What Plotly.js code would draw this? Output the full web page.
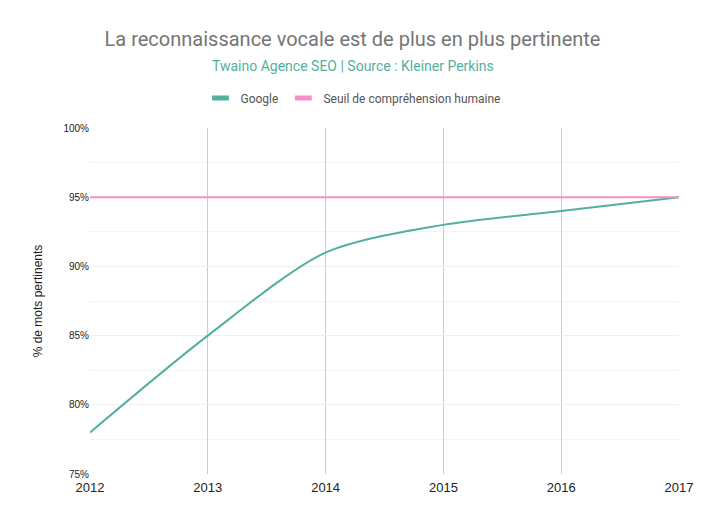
<!DOCTYPE html>
<html>
<head>
<meta charset="utf-8">
<script src="https://cdn.plot.ly/plotly-3.0.1.min.js"></script>
<style>
  html, body { margin: 0; padding: 0; background: #fff; }
  #chart { width: 705px; height: 520px; }
</style>
</head>
<body>
<div id="chart"></div>
<script>
// Données
const annees = [2012, 2013, 2014, 2015, 2016, 2017]
const google = [78, 85, 91, 93, 94, 95]
const seuilHumain = [95, 95, 95, 95, 95, 95]

const couleurs = { google: "#52b0a0", seuil: "#f78fc6" }
const noms = { google: "Google", seuil: "Seuil de compréhension humaine" }

const traces = [
  {
    x: annees,
    y: google,
    type: "scatter",
    mode: "lines",
    name: noms.google,
    showlegend: false,
    line: { color: couleurs.google, width: 2, shape: "spline", smoothing: 0.8 },
  },
  {
    x: annees,
    y: seuilHumain,
    type: "scatter",
    mode: "lines",
    name: noms.seuil,
    showlegend: false,
    line: { color: couleurs.seuil, width: 2 },
  },
  // Entrées de légende seules (symbole court comme dans l'original)
  {
    x: [null],
    y: [null],
    type: "scatter",
    mode: "markers",
    name: noms.google,
    marker: { symbol: "line-ew", size: 12, line: { color: couleurs.google, width: 5 } },
  },
  {
    x: [null],
    y: [null],
    type: "scatter",
    mode: "markers",
    name: noms.seuil,
    marker: { symbol: "line-ew", size: 12, line: { color: couleurs.seuil, width: 5 } },
  },
]

const layout = {
  width: 705,
  height: 520,
  paper_bgcolor: "#ffffff",
  plot_bgcolor: "#ffffff",
  margin: { t: 128, r: 26, b: 46, l: 90 },
  font: { family: "Roboto, Arial, sans-serif", color: "#222" },
  title: {
    text: "La reconnaissance vocale est de plus en plus pertinente",
    font: { size: 20, color: "#757575", family: "Roboto, Arial, sans-serif" },
    x: 0.5,
    xref: "container",
    y: 1 - 39 / 520,
    yref: "container",
    yanchor: "middle",
  },
  annotations: [
    {
      text: "Twaino Agence SEO | Source : Kleiner Perkins",
      xref: "paper",
      yref: "paper",
      x: (353 - 90) / 589,
      y: (474 - 66) / 346,
      xanchor: "center",
      yanchor: "middle",
      showarrow: false,
      font: { size: 14, color: "#52b0a0", family: "Roboto, Arial, sans-serif" },
    },
  ],
  showlegend: true,
  legend: {
    orientation: "h",
    x: (353 - 90) / 589,
    xanchor: "center",
    y: (474 - 98) / 346,
    yref: "paper",
    yanchor: "middle",
    itemwidth: 30,
    font: { size: 12, color: "#555", family: "Roboto, Arial, sans-serif" },
    bgcolor: "rgba(0,0,0,0)",
  },
  xaxis: {
    range: [2012, 2017],
    tickvals: annees,
    ticktext: annees.map(String),
    showgrid: true,
    gridcolor: "#cccccc",
    gridwidth: 1,
    zeroline: false,
    showline: false,
    ticks: "",
    ticklabelstandoff: 4,
    tickfont: { size: 13, color: "#222", family: "Arial, Liberation Sans, sans-serif" },
    fixedrange: true,
  },
  yaxis: {
    range: [75, 100],
    dtick: 5,
    tick0: 75,
    ticksuffix: "%",
    showgrid: true,
    gridcolor: "#efefef",
    zeroline: false,
    showline: false,
    ticks: "",
    tickfont: { size: 10, color: "#222", family: "Arial, Liberation Sans, sans-serif" },
    minor: { dtick: 2.5, showgrid: true, gridcolor: "#f3f3f3" },
    title: {
      text: "% de mots pertinents",
      font: { size: 12, color: "#222", family: "Arial, Liberation Sans, sans-serif" },
      standoff: 18,
    },
    fixedrange: true,
  },
}

Plotly.newPlot("chart", traces, layout, { displayModeBar: false, staticPlot: true })
</script>
</body>
</html>
